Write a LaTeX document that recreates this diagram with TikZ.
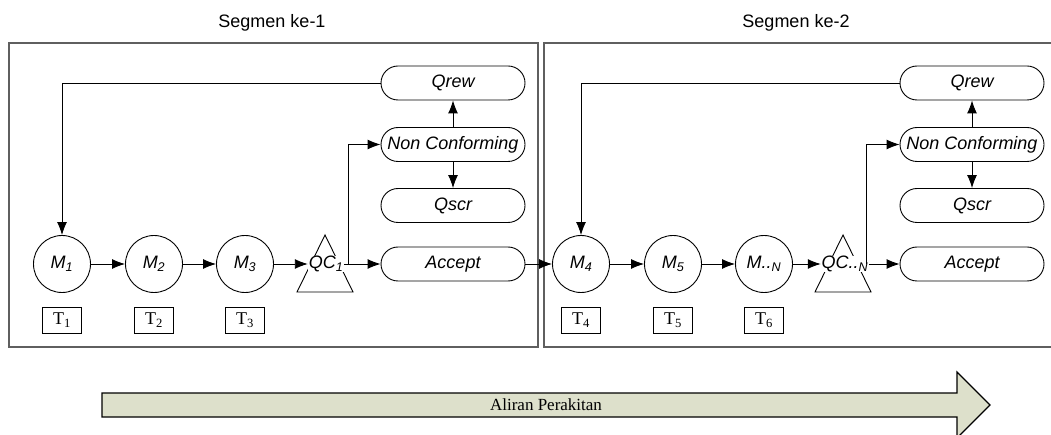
\documentclass[tikz,border=0pt]{standalone}
\usepackage{fontspec}
\setmainfont{Liberation Sans}
\newfontfamily\serifface{Liberation Serif}
\usetikzlibrary{arrows.meta}

\definecolor{framegray}{RGB}{95,95,95}
\definecolor{flowfill}{RGB}{221,224,203}

\begin{document}
\begin{tikzpicture}[x = 1pt, y = -1pt, line width = 0.9pt, > = {Latex[length = 13pt, width = 10pt]},
	font = \fontsize{18}{20}\selectfont,
	station/.style = {draw, circle, minimum size = 57pt, inner sep = 0pt, font = \fontsize{18}{20}\selectfont\itshape},
	pill/.style = {draw, rounded corners = 17pt, minimum width = 144pt, minimum height = 34pt, inner sep = 1pt, font = \fontsize{18}{20}\selectfont\itshape},
	check/.style = {fill = white, inner sep = 0.5pt, font = \fontsize{18}{20}\selectfont\itshape},
	timebox/.style = {draw, minimum width = 39pt, minimum height = 26pt, inner sep = 0pt, font = \fontsize{18}{20}\selectfont\serifface},
	segment/.style = {draw = framegray, line width = 1.5pt}]

	\clip (0, 0) rectangle (1051, 435);

	% Segment frames and titles

	\draw [segment] (9, 43) rectangle (538, 347);
	\draw [segment] (544, 43) rectangle (1060, 347);

	\node (seg1) at (272, 23) {Segmen ke-1};
	\node (seg2) at (796, 23) {Segmen ke-2};

	% Inspection triangles, drawn under the QC labels

	\foreach \x in {325, 843}
	{
		\draw (\x, 235) -- (\x + 28, 292) -- (\x - 28, 292) -- cycle;
	}

	% Segment 1

	\node [station] (m1) at (62, 264) {M\textsubscript{1}};
	\node [station] (m2) at (154, 264) {M\textsubscript{2}};
	\node [station] (m3) at (245, 264) {M\textsubscript{3}};
	\node [check] (qc1) at (326, 264) {QC\textsubscript{1}};

	\node [pill] (qrew1) at (453, 83) {Qrew};
	\node [pill] (nc1) at (453, 144.5) {Non Conforming};
	\node [pill] (qscr1) at (453, 205.5) {Qscr};
	\node [pill] (acc1) at (453, 264) {Accept};

	% Segment 2

	\node [station] (m4) at (581, 264) {M\textsubscript{4}};
	\node [station] (m5) at (673, 264) {M\textsubscript{5}};
	\node [station] (mn) at (764, 264) {M..\textsubscript{N}};
	\node [check] (qcn) at (845, 264) {QC..\textsubscript{N}};

	\node [pill] (qrew2) at (972, 83) {Qrew};
	\node [pill] (nc2) at (972, 144.5) {Non Conforming};
	\node [pill] (qscr2) at (972, 205.5) {Qscr};
	\node [pill] (acc2) at (972, 264) {Accept};

	% Station times

	\foreach \x / \n in {62/1, 154/2, 245/3, 581/4, 673/5, 764/6}
	{
		\node [timebox] (t\n) at (\x, 320) {T\textsubscript{\n}};
	}

	% Flow through segment 1

	\coordinate (split1) at (348, 264);

	\draw [->] (m1) -- (m2);
	\draw [->] (m2) -- (m3);
	\draw [->] (m3) -- (qc1);
	\draw [->] (qc1) -- (acc1);
	\draw [->] (split1) |- (nc1);
	\draw [->] (nc1) -- (qrew1);
	\draw [->] (nc1) -- (qscr1);
	\draw [->] (qrew1) -| (m1);
	\draw [->] (acc1) -- (m4);

	% Flow through segment 2

	\coordinate (split2) at (866, 264);

	\draw [->] (m4) -- (m5);
	\draw [->] (m5) -- (mn);
	\draw [->] (mn) -- (qcn);
	\draw [->] (qcn) -- (acc2);
	\draw [->] (split2) |- (nc2);
	\draw [->] (nc2) -- (qrew2);
	\draw [->] (nc2) -- (qscr2);
	\draw [->] (qrew2) -| (m4);

	% Assembly direction

	\draw [fill = flowfill, line width = 1.2pt] (102, 393) -- (957, 393) -- (957, 372) -- (990, 405) -- (957, 438) -- (957, 417) -- (102, 417) -- cycle;
	\node [font = \fontsize{17}{19}\selectfont\serifface] (flow) at (546, 405) {Aliran Perakitan};

\end{tikzpicture}
\end{document}
